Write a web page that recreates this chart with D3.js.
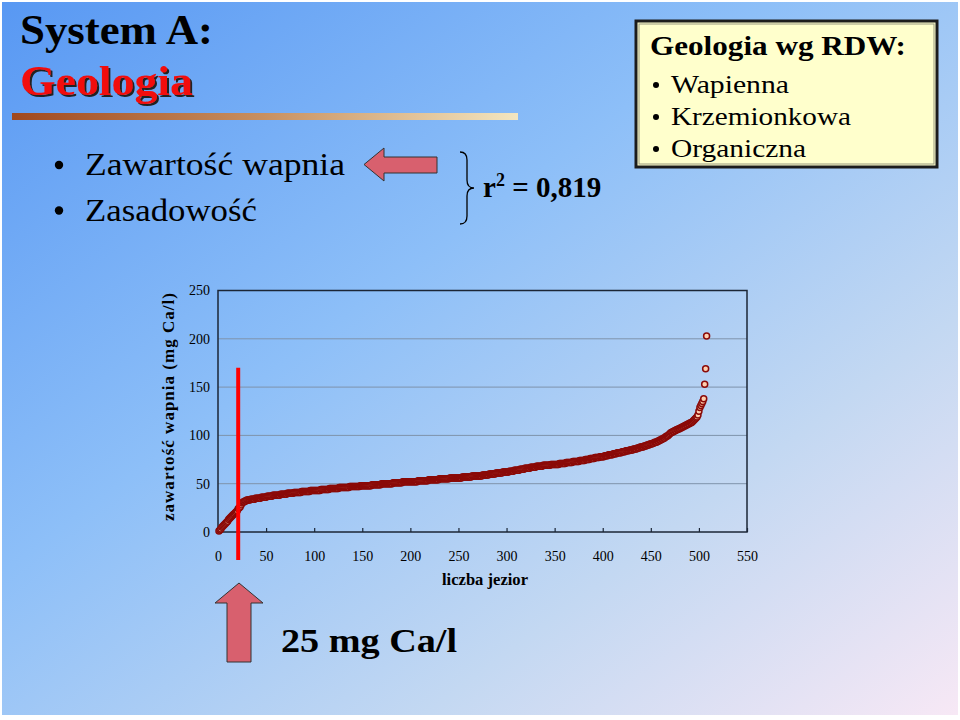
<!DOCTYPE html>
<html>
<head>
<meta charset="utf-8">
<style>
    body { margin: 0; background: #fff; }
    svg { display: block; font-family: "Liberation Serif", "Times New Roman", serif; }
</style>
</head>
<body>
<svg id="slide" width="960" height="720"></svg>
<script src="https://cdn.jsdelivr.net/npm/d3@7"></script>
<script>
// zawartosc wapnia (mg Ca/l) w kolejnych jeziorach, posortowana rosnaco (odczyt z wykresu)
var calcium = [
    1,2,3,5,6,7,8,9,10,11,
    13,14,15,16,17,18,19,20,21,22,
    24,25,26,28,30,31,31,32,32,33,
    33,33,33,34,34,34,34,34,35,35,
    35,35,35,35,36,36,36,36,36,36,
    37,37,37,37,37,37,38,38,38,38,
    38,38,38,38,39,39,39,39,39,39,
    39,40,40,40,40,40,40,40,41,41,
    41,41,41,41,41,41,42,42,42,42,
    42,42,42,42,42,43,43,43,43,43,
    43,43,43,43,43,43,44,44,44,44,
    44,44,44,44,44,45,45,45,45,45,
    45,45,45,45,45,46,46,46,46,46,
    46,46,46,46,46,46,47,47,47,47,
    47,47,47,47,47,47,47,48,48,48,
    48,48,48,48,48,48,48,48,48,49,
    49,49,49,49,49,49,49,49,49,50,
    50,50,50,50,50,50,50,50,50,50,
    50,51,51,51,51,51,51,51,51,51,
    51,52,52,52,52,52,52,52,52,52,
    52,52,52,52,52,52,52,53,53,53,
    53,53,53,53,53,53,53,53,54,54,
    54,54,54,54,54,54,54,54,54,55,
    55,55,55,55,55,55,55,55,55,55,
    56,56,56,56,56,56,56,56,56,56,
    56,56,56,57,57,57,57,57,57,57,
    57,57,57,58,58,58,58,58,58,58,
    58,58,58,58,59,59,59,59,59,59,
    59,60,60,60,60,60,60,60,61,61,
    61,61,61,61,61,62,62,62,62,62,
    62,62,63,63,63,63,63,64,64,64,
    64,64,64,65,65,65,65,65,66,66,
    66,66,66,66,67,67,67,67,67,67,
    68,68,68,68,68,68,68,69,69,69,
    69,69,69,69,69,70,70,70,70,70,
    70,70,70,70,71,71,71,71,71,71,
    71,72,72,72,72,72,72,72,73,73,
    73,73,73,73,73,74,74,74,74,74,
    74,75,75,75,75,75,76,76,76,76,
    76,77,77,77,77,77,78,78,78,78,
    78,79,79,79,79,80,80,80,80,80,
    81,81,81,81,82,82,82,82,82,83,
    83,83,83,84,84,84,84,85,85,85,
    85,86,86,86,86,87,87,87,88,88,
    88,88,89,89,89,90,90,90,91,91,
    91,92,92,93,93,93,94,94,95,95,
    96,96,97,97,98,99,99,100,101,102,
    103,103,104,104,105,105,106,106,107,107,
    108,108,109,109,110,110,111,111,112,112,
    113,113,114,115,116,117,118,119,121,125,
    129,131,133,135,138,153,169,203
]
var xTicks = [0,50,100,150,200,250,300,350,400,450,500,550]
var yTicks = [0,50,100,150,200,250]
// granica 25 mg Ca/l - numer jeziora i wysokosc czerwonej linii
var thresholdLake = 21
var thresholdTop = 170
var bulletItems = ["Zawartość wapnia", "Zasadowość"]
var rdwTypes = ["Wapienna", "Krzemionkowa", "Organiczna"]

var svg = d3.select("#slide")

// tlo slajdu
var defs = svg.append("defs")
var bg = defs.append("linearGradient").attr("id", "bg")
    .attr("x1", 0).attr("y1", 0).attr("x2", 1).attr("y2", 1)
bg.append("stop").attr("offset", 0).attr("stop-color", "#5898f3")
bg.append("stop").attr("offset", 0.4).attr("stop-color", "#8dbff8")
bg.append("stop").attr("offset", 0.72).attr("stop-color", "#c3d8f2")
bg.append("stop").attr("offset", 1).attr("stop-color", "#f7e8f5")
var bar = defs.append("linearGradient").attr("id", "bar")
bar.append("stop").attr("offset", 0).attr("stop-color", "#a0481e")
bar.append("stop").attr("offset", 0.5).attr("stop-color", "#c89060")
bar.append("stop").attr("offset", 1).attr("stop-color", "#f3e6c0")
defs.append("filter").attr("id", "shadow")
    .attr("x", "-10%").attr("y", "-10%").attr("width", "130%").attr("height", "130%")
    .append("feDropShadow")
    .attr("dx", 2).attr("dy", 2).attr("stdDeviation", 0.3)
    .attr("flood-color", "#202020").attr("flood-opacity", 1)

svg.append("rect").attr("x", 2).attr("y", 2).attr("width", 956).attr("height", 713)
    .attr("fill", "url(#bg)")

// tytul
svg.append("text").attr("x", 20).attr("y", 44).text("System A:")
    .attr("font-size", 43).attr("font-weight", "bold").attr("fill", "#000")
    .attr("textLength", 193).attr("lengthAdjust", "spacingAndGlyphs")
svg.append("text").attr("x", 20).attr("y", 95).text("Geologia")
    .attr("font-size", 43).attr("font-weight", "bold").attr("fill", "#f21010")
    .attr("filter", "url(#shadow)")
    .attr("textLength", 173).attr("lengthAdjust", "spacingAndGlyphs")
svg.append("rect").attr("x", 12).attr("y", 113).attr("width", 506).attr("height", 7)
    .attr("fill", "url(#bar)")

// punkty z lewej
var bulletWidths = [260, 172]
bulletItems.forEach(function(t, i){
    var y = 175 + i*45.5
    svg.append("circle").attr("cx", 59).attr("cy", y - 10).attr("r", 4.2).attr("fill", "#000")
    svg.append("text").attr("x", 85).attr("y", y).text(t)
        .attr("font-size", 31).attr("fill", "#000")
        .attr("textLength", bulletWidths[i]).attr("lengthAdjust", "spacingAndGlyphs")
})

// strzalka w lewo
var arrowFill = "#d8606e"
svg.append("path")
    .attr("d", "M364,164.5 L384,148 L384,157 L437,157 L437,173 L384,173 L384,181 Z")
    .attr("fill", arrowFill).attr("stroke", "#333").attr("stroke-width", 1)

// klamra i r2
svg.append("path")
    .attr("d", "M460,152 Q467,152 467,160 L467,180 Q467,188 474,188 Q467,188 467,196 L467,216 Q467,224 460,224")
    .attr("fill", "none").attr("stroke", "#000").attr("stroke-width", 1.3)
var r2 = svg.append("text").attr("x", 483).attr("y", 197)
    .attr("font-size", 29).attr("font-weight", "bold").attr("fill", "#000")
r2.append("tspan").text("r")
r2.append("tspan").text("2").attr("font-size", 18).attr("dy", -11)
r2.append("tspan").text(" = 0,819").attr("dy", 11)

// ramka RDW
svg.append("rect").attr("x", 636).attr("y", 21).attr("width", 301).attr("height", 146)
    .attr("fill", "#ffffcc").attr("stroke", "#1c1c1c").attr("stroke-width", 3)
svg.append("rect").attr("x", 639).attr("y", 24).attr("width", 295).attr("height", 140)
    .attr("fill", "none").attr("stroke", "#9a9a80").attr("stroke-width", 1)
svg.append("text").attr("x", 650).attr("y", 55).text("Geologia wg RDW:")
    .attr("font-size", 27).attr("font-weight", "bold").attr("fill", "#000")
    .attr("textLength", 256).attr("lengthAdjust", "spacingAndGlyphs")
var rdwWidths = [118, 180, 135]
rdwTypes.forEach(function(t, i){
    var y = 93 + i*32
    svg.append("circle").attr("cx", 656).attr("cy", y - 8).attr("r", 3).attr("fill", "#000")
    svg.append("text").attr("x", 671).attr("y", y).text(t)
        .attr("font-size", 26).attr("fill", "#000")
        .attr("textLength", rdwWidths[i]).attr("lengthAdjust", "spacingAndGlyphs")
})

// wykres
var xScale = d3.scaleLinear().domain([0, 550]).range([218, 747])
var yScale = d3.scaleLinear().domain([0, 250]).range([532, 290.5])

var grid = svg.append("g")
grid.selectAll("line").data(yTicks.filter(function(v){return v > 0 && v < 250})).enter()
    .append("line")
    .attr("x1", xScale(0)).attr("x2", xScale(550))
    .attr("y1", function(v){return yScale(v)}).attr("y2", function(v){return yScale(v)})
    .attr("stroke", "#7f93ab").attr("stroke-width", 1)

svg.append("rect")
    .attr("x", xScale(0)).attr("y", yScale(250))
    .attr("width", xScale(550) - xScale(0)).attr("height", yScale(0) - yScale(250))
    .attr("fill", "none").attr("stroke", "#1b2636").attr("stroke-width", 1.5)

var xAxis = d3.axisBottom(xScale).tickValues(xTicks).tickSize(-4).tickPadding(19)
var gx = svg.append("g").attr("transform", "translate(0," + yScale(0) + ")").call(xAxis)
gx.select(".domain").remove()
gx.selectAll("line").attr("stroke", "#1b2636").attr("stroke-width", 1.2)
gx.selectAll("text").attr("font-size", 14).attr("fill", "#000")
    .attr("font-family", "Liberation Serif, serif")

var yAxis = d3.axisLeft(yScale).tickValues(yTicks).tickSize(0).tickPadding(8)
var gy = svg.append("g").attr("transform", "translate(" + xScale(0) + ",0)").call(yAxis)
gy.select(".domain").remove()
gy.selectAll("text").attr("font-size", 14).attr("fill", "#000")
    .attr("font-family", "Liberation Serif, serif")

svg.append("text")
    .attr("transform", "translate(174,407) rotate(-90)")
    .attr("text-anchor", "middle").text("zawartość wapnia (mg Ca/l)")
    .attr("font-size", 17).attr("font-weight", "bold").attr("fill", "#000")
    .attr("textLength", 228).attr("lengthAdjust", "spacing")
svg.append("text").attr("x", 485).attr("y", 585).attr("text-anchor", "middle")
    .text("liczba jezior")
    .attr("font-size", 17).attr("font-weight", "bold").attr("fill", "#000")
    .attr("textLength", 86).attr("lengthAdjust", "spacingAndGlyphs")

svg.append("g").selectAll("circle").data(calcium).enter()
    .append("circle")
    .attr("cx", function(v, i){return xScale(i + 1)})
    .attr("cy", function(v){return yScale(v)})
    .attr("r", 3)
    .attr("fill", "#ffcfae")
    .attr("stroke", "#8a0a08")
    .attr("stroke-width", 1.5)

// czerwona linia 25 mg Ca/l
svg.append("line")
    .attr("x1", xScale(thresholdLake)).attr("x2", xScale(thresholdLake))
    .attr("y1", yScale(thresholdTop)).attr("y2", yScale(0) + 28)
    .attr("stroke", "#ff0000").attr("stroke-width", 4)

// strzalka w gore i podpis
svg.append("path")
    .attr("d", "M239,583 L263,603 L251,603 L251,662 L227,662 L227,603 L215,603 Z")
    .attr("fill", arrowFill).attr("stroke", "#333").attr("stroke-width", 1)
svg.append("text").attr("x", 281).attr("y", 652).text("25 mg Ca/l")
    .attr("font-size", 34).attr("font-weight", "bold").attr("fill", "#000")
    .attr("textLength", 176).attr("lengthAdjust", "spacingAndGlyphs")
</script>
</body>
</html>
